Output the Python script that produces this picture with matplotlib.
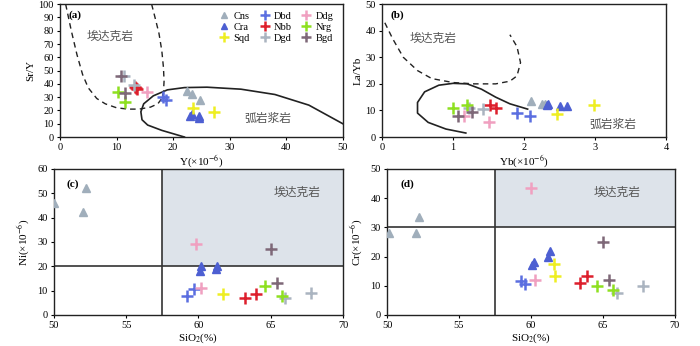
import matplotlib
matplotlib.use("Agg")
import matplotlib.pyplot as plt
from matplotlib.patches import Rectangle

plt.rcParams['font.family'] = ['Liberation Serif', 'Noto Sans CJK SC']
plt.rcParams['mathtext.fontset'] = 'stix'

# ---------------- data ----------------
series = ["Cns", "Cra", "Sqd", "Dbd", "Nbb", "Dgd", "Ddg", "Nrg", "Bgd"]
colors = {"Cns": "#a0aebb", "Cra": "#4d5fd2", "Sqd": "#eeee22", "Dbd": "#5b6ee0",
          "Nbb": "#dd1f2c", "Dgd": "#aab4c0", "Ddg": "#f0a0c0", "Nrg": "#8ee020",
          "Bgd": "#7e6878"}
markers = {"Cns": "^", "Cra": "^"}

# (a) Y vs Sr/Y
a_Y = {"Cns": [22.5, 23.3, 24.8], "Cra": [23.0, 23.3, 24.5, 24.6], "Sqd": [23.5, 27.3],
       "Dbd": [18.3, 18.7], "Nbb": [13.2, 13.5, 13.7], "Dgd": [11.3, 13.0],
       "Ddg": [15.3], "Nrg": [10.2, 11.5], "Bgd": [10.8, 11.5]}
a_SrY = {"Cns": [35, 32, 28], "Cra": [16, 17, 16, 14], "Sqd": [22, 19],
         "Dbd": [30, 28], "Nbb": [38, 37, 36], "Dgd": [46, 39],
         "Ddg": [34], "Nrg": [34, 26], "Bgd": [46, 33]}

# (b) Yb vs La/Yb
b_Yb = {"Cns": [2.1, 2.25, 2.3], "Cra": [2.32, 2.33, 2.5, 2.6], "Sqd": [2.47, 2.98],
        "Dbd": [1.9, 2.08], "Nbb": [1.52, 1.6], "Dgd": [1.42, 1.22],
        "Ddg": [1.15, 1.5], "Nrg": [1.0, 1.2], "Bgd": [1.07, 1.27]}
b_LaYb = {"Cns": [13.5, 12.5, 12.5], "Cra": [12, 12.5, 11.5, 11.5], "Sqd": [8.5, 12],
          "Dbd": [9, 8], "Nbb": [12, 11], "Dgd": [10.5, 11],
          "Ddg": [8, 5.5], "Nrg": [11, 12], "Bgd": [8, 9.5]}

# (c) SiO2 vs Ni
c_Si = {"Cns": [50.0, 52.0, 52.2], "Cra": [60.1, 60.2, 61.2, 61.3], "Sqd": [61.7],
        "Dbd": [59.2, 59.7], "Nbb": [63.2, 64.0], "Dgd": [66.0, 67.8],
        "Ddg": [59.8, 60.2], "Nrg": [64.6, 65.8], "Bgd": [65.0, 65.4]}
c_Ni = {"Cns": [46, 42.5, 52], "Cra": [18, 20, 19, 20], "Sqd": [8.5],
        "Dbd": [8, 10.5], "Nbb": [7, 8.5], "Dgd": [7, 9.2],
        "Ddg": [29, 11], "Nrg": [12, 8], "Bgd": [27, 13]}

# (d) SiO2 vs Cr
d_Si = {"Cns": [50.1, 52.0, 52.2], "Cra": [60.1, 60.2, 61.2, 61.3], "Sqd": [61.6, 61.7],
        "Dbd": [59.3, 59.6], "Nbb": [63.4, 63.9], "Dgd": [66.0, 67.8],
        "Ddg": [60.0, 60.3], "Nrg": [64.6, 65.7], "Bgd": [65.0, 65.4]}
d_Cr = {"Cns": [28, 28, 33.5], "Cra": [17, 18, 20, 22], "Sqd": [17.5, 13.5],
        "Dbd": [11.5, 10.5], "Nbb": [11, 13.5], "Dgd": [7.5, 10],
        "Ddg": [43.5, 12], "Nrg": [10, 8.5], "Bgd": [25, 12]}

# field boundaries
a_dash1_x = [1.0, 2.0, 3.0, 4.0, 5.0, 6.5, 8.0, 10.0, 12.0, 14.0, 16.0, 17.3, 18.0]
a_dash1_y = [100, 80, 62, 47, 37, 29, 25, 22, 21, 21, 22.5, 25, 29]
a_dash2_x = [16.2, 16.8, 17.5, 18.0, 18.3, 18.4, 18.3, 18.0]
a_dash2_y = [100, 90, 78, 65, 52, 42, 34, 29]
a_solid_x = [22.0, 18.0, 15.5, 14.5, 14.3, 14.8, 16.5, 19.0, 22.0, 26.0, 32.0, 38.0, 44.0, 50.0]
a_solid_y = [0, 5, 9, 13, 19, 25, 31, 35.5, 37.2, 37.5, 36, 32, 24, 10]

b_dash_x = [0.04, 0.15, 0.3, 0.5, 0.7, 1.0, 1.3, 1.6, 1.8, 1.9, 1.95, 1.9, 1.8]
b_dash_y = [43, 37, 30, 25, 22, 20.5, 20, 20, 21, 23, 28, 34, 38.5]
b_solid_x = [1.18, 0.9, 0.65, 0.5, 0.5, 0.6, 0.8, 1.0, 1.2, 1.4, 1.6, 1.8, 2.05]
b_solid_y = [1.5, 3.0, 5.5, 9, 13, 17, 19.5, 20.2, 20, 18, 15, 12.5, 10.5]

# ---------------- figure ----------------
fig = plt.figure(figsize=(7.0, 3.46), dpi=100)
axa = fig.add_axes([0.0857, 0.604, 0.404, 0.384])
axb = fig.add_axes([0.5457, 0.604, 0.406, 0.384])
axc = fig.add_axes([0.077, 0.0896, 0.413, 0.422])
axd = fig.add_axes([0.553, 0.0896, 0.411, 0.422])

tick_fs = 7.5
lab_fs = 8
cjk = ['Noto Sans CJK SC', 'DejaVu Sans']
txt_col = '#555555'


def plot_points(ax, xs, ys, order=series):
    for s in order:
        m = markers.get(s, '+')
        if m == '^':
            ax.plot(xs[s], ys[s], linestyle='none', marker='^', ms=5.5,
                    color=colors[s], mec=colors[s], label=s, zorder=3)
        else:
            ax.plot(xs[s], ys[s], linestyle='none', marker='+', ms=8.5, mew=1.8,
                    color=colors[s], label=s, zorder=3)


for ax in (axa, axb, axc, axd):
    ax.tick_params(labelsize=tick_fs, length=2.5, width=0.8, direction='out', pad=2)
    for sp in ax.spines.values():
        sp.set_linewidth(1.0)
        sp.set_color('#222222')

# (a)
plot_points(axa, a_Y, a_SrY)
axa.plot(a_dash1_x, a_dash1_y, '--', color='#222222', lw=1.0, dashes=(4, 3))
axa.plot(a_dash2_x, a_dash2_y, '--', color='#222222', lw=1.0, dashes=(4, 3))
axa.plot(a_solid_x, a_solid_y, '-', color='#222222', lw=1.2)
axa.set_xlim(0, 50)
axa.set_ylim(0, 100)
axa.set_xticks(range(0, 51, 10))
axa.set_yticks(range(0, 101, 10))
axa.set_xlabel('Y(×10$^{-6}$)', fontsize=lab_fs, labelpad=1)
axa.set_ylabel('Sr/Y', fontsize=lab_fs, labelpad=2)
axa.text(0.03, 0.95, '(a)', transform=axa.transAxes, fontsize=8, fontweight='bold', va='top')
axa.text(8.9, 76, '埃达克岩', family=cjk, fontsize=8.5, color=txt_col, ha='center', va='center')
axa.text(36.8, 14, '弧岩浆岩', family=cjk, fontsize=8.5, color=txt_col, ha='center', va='center')
leg = axa.legend(ncol=3, loc='upper right', bbox_to_anchor=(0.99, 0.99), frameon=False,
                 fontsize=7.5, handlelength=1.0, handletextpad=0.4, columnspacing=0.9,
                 labelspacing=0.15, borderaxespad=0.2, markerscale=0.8)

# (b)
plot_points(axb, b_Yb, b_LaYb)
axb.plot(b_dash_x, b_dash_y, '--', color='#222222', lw=1.0, dashes=(4, 3))
axb.plot(b_solid_x, b_solid_y, '-', color='#222222', lw=1.2)
axb.set_xlim(0, 4)
axb.set_ylim(0, 50)
axb.set_xticks(range(0, 5))
axb.set_yticks(range(0, 51, 10))
axb.set_xlabel('Yb(×10$^{-6}$)', fontsize=lab_fs, labelpad=1)
axb.set_ylabel('La/Yb', fontsize=lab_fs, labelpad=2)
axb.text(0.03, 0.95, '(b)', transform=axb.transAxes, fontsize=8, fontweight='bold', va='top')
axb.text(0.72, 37, '埃达克岩', family=cjk, fontsize=8.5, color=txt_col, ha='center', va='center')
axb.text(3.25, 4.8, '弧岩浆岩', family=cjk, fontsize=8.5, color=txt_col, ha='center', va='center')

# (c)
axc.add_patch(Rectangle((57.5, 20), 70 - 57.5, 40, facecolor='#dde3ea', edgecolor='none', zorder=0))
axc.axvline(57.5, color='#333333', lw=1.2, zorder=1)
axc.axhline(20, color='#333333', lw=1.2, zorder=1)
plot_points(axc, c_Si, c_Ni)
axc.set_xlim(50, 70)
axc.set_ylim(0, 60)
axc.set_xticks(range(50, 71, 5))
axc.set_yticks(range(0, 61, 10))
axc.set_xlabel('SiO$_2$(%)', fontsize=lab_fs, labelpad=1)
axc.set_ylabel('Ni(×10$^{-6}$)', fontsize=lab_fs, labelpad=4)
axc.text(0.045, 0.93, '(c)', transform=axc.transAxes, fontsize=8, fontweight='bold', va='top')
axc.text(66.8, 50.5, '埃达克岩', family=cjk, fontsize=8.5, color=txt_col, ha='center', va='center')

# (d)
axd.add_patch(Rectangle((57.5, 30), 70 - 57.5, 20, facecolor='#dde3ea', edgecolor='none', zorder=0))
axd.axvline(57.5, color='#333333', lw=1.2, zorder=1)
axd.axhline(30, color='#333333', lw=1.2, zorder=1)
plot_points(axd, d_Si, d_Cr)
axd.set_xlim(50, 70)
axd.set_ylim(0, 50)
axd.set_xticks(range(50, 71, 5))
axd.set_yticks(range(0, 51, 10))
axd.set_xlabel('SiO$_2$(%)', fontsize=lab_fs, labelpad=1)
axd.set_ylabel('Cr(×10$^{-6}$)', fontsize=lab_fs, labelpad=4)
axd.text(0.045, 0.93, '(d)', transform=axd.transAxes, fontsize=8, fontweight='bold', va='top')
axd.text(66.0, 42, '埃达克岩', family=cjk, fontsize=8.5, color=txt_col, ha='center', va='center')

fig.savefig('out.png', dpi=100)
